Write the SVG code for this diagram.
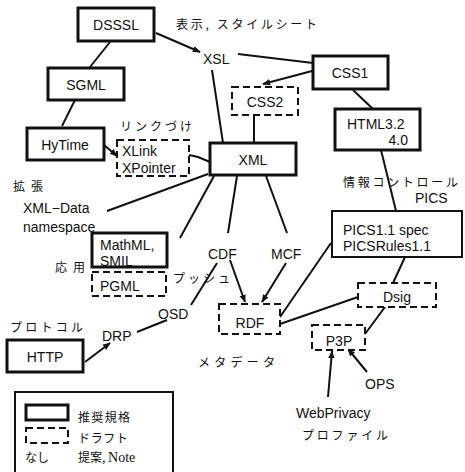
<svg xmlns="http://www.w3.org/2000/svg" width="465" height="472" viewBox="0 0 465 472">
<defs>
<style>
.solid{fill:#fff;stroke:#111;stroke-width:3}
.thin{fill:#fff;stroke:#111;stroke-width:2}
.dash{fill:#fff;stroke:#111;stroke-width:2;stroke-dasharray:7 4}
.t{font-family:"Liberation Sans",Arial,sans-serif;font-size:14px;fill:#111}
.c{text-anchor:middle}
.j{font-family:"Noto Sans CJK JP",sans-serif;font-size:12px;fill:#111}
.ln{stroke:#111;stroke-width:2;fill:none}
.ar{stroke:#111;stroke-width:2;fill:none;marker-end:url(#ah)}
</style>
<marker id="ah" viewBox="0 0 10 10" refX="9" refY="5" markerWidth="8" markerHeight="8" markerUnits="userSpaceOnUse" orient="auto">
<path d="M0,1 L10,5 L0,9 z" fill="#111"/>
</marker>
</defs>
<rect width="465" height="472" fill="#fff"/>

<g id="connectors">
<line class="ar" x1="156" y1="33" x2="200" y2="52"/>
<line class="ln" x1="110" y1="42" x2="90" y2="67"/>
<line class="ln" x1="75" y1="100" x2="62" y2="126"/>
<line class="ar" x1="104" y1="145" x2="117" y2="156"/>
<line class="ln" x1="238" y1="54" x2="313" y2="63"/>
<line class="ln" x1="212" y1="70" x2="223" y2="143"/>
<line class="ar" x1="312" y1="71" x2="263" y2="84"/>
<line class="ln" x1="254" y1="115" x2="254" y2="143"/>
<line class="ln" x1="353" y1="90" x2="373" y2="109"/>
<polyline class="ln" points="189,155 198,157 210,162"/>
<line class="ln" x1="208" y1="174" x2="107" y2="211"/>
<line class="ln" x1="214" y1="176" x2="180" y2="238"/>
<line class="ln" x1="237" y1="176" x2="228" y2="233"/>
<line class="ln" x1="266" y1="176" x2="287" y2="233"/>
<line class="ln" x1="381" y1="150" x2="396" y2="211"/>
<line class="ln" x1="405" y1="257" x2="393" y2="283"/>
<line class="ln" x1="331" y1="243" x2="280" y2="317"/>
<line class="ln" x1="358" y1="297" x2="280" y2="324"/>
<line class="ln" x1="385" y1="307" x2="365" y2="334"/>
<line class="ar" x1="230" y1="260" x2="245" y2="302"/>
<line class="ar" x1="286" y1="263" x2="262" y2="302"/>
<line class="ln" x1="217" y1="263" x2="191" y2="305"/>
<line class="ln" x1="137" y1="332" x2="167" y2="320"/>
<line class="ar" x1="85" y1="362" x2="110" y2="343"/>
<line class="ar" x1="328" y1="397" x2="332" y2="351"/>
<line class="ar" x1="367" y1="372" x2="348" y2="349"/>
</g>

<g id="DSSSL"><rect class="solid" x="78" y="8" width="76" height="33"/><text class="t c" x="116" y="30">DSSSL</text></g>
<g id="SGML"><rect class="solid" x="48" y="68" width="76" height="32"/><text class="t c" x="86" y="90">SGML</text></g>
<g id="HyTime"><rect class="solid" x="27" y="128" width="77" height="32"/><text class="t c" x="65" y="150">HyTime</text></g>
<g id="XLink"><rect class="dash" x="117" y="140" width="72" height="36"/><text class="t" x="122" y="156">XLink</text><text class="t" x="122" y="173">XPointer</text></g>
<g id="XSL"><text class="t" x="203" y="64">XSL</text></g>
<g id="CSS1"><rect class="solid" x="313" y="56" width="75" height="33"/><text class="t c" x="350" y="78">CSS1</text></g>
<g id="CSS2"><rect class="dash" x="232" y="87" width="66" height="28"/><text class="t c" x="265" y="107">CSS2</text></g>
<g id="XML"><rect class="solid" x="210" y="143" width="86" height="32"/><text class="t c" x="253" y="165">XML</text></g>
<g id="HTML"><rect class="solid" x="335" y="109" width="85" height="41"/><text class="t" x="347" y="129">HTML3.2</text><text class="t" x="408" y="145" text-anchor="end">4.0</text></g>
<g id="PICS"><rect class="thin" x="332" y="211" width="130" height="46"/><text class="t" x="343" y="235">PICS1.1 spec</text><text class="t" x="343" y="251">PICSRules1.1</text></g>
<g id="Dsig"><rect class="dash" x="358" y="283" width="78" height="24"/><text class="t c" x="397" y="302">Dsig</text></g>
<g id="RDF"><rect class="dash" x="219" y="304" width="61" height="30"/><text class="t c" x="250" y="328">RDF</text></g>
<g id="P3P"><rect class="dash" x="312" y="325" width="53" height="25"/><text class="t c" x="339" y="346">P3P</text></g>
<g id="XMLData"><text class="t" x="23" y="213">XML−Data</text><text class="t" x="23" y="232">namespace</text></g>
<g id="MathML"><rect class="solid" x="92" y="233" width="75" height="34"/><text class="t" x="100" y="250">MathML,</text><text class="t" x="100" y="266">SMIL</text></g>
<g id="PGML"><rect class="dash" x="92" y="272" width="74" height="24"/><text class="t" x="100" y="291">PGML</text></g>
<g id="CDF"><text class="t" x="208" y="259">CDF</text></g>
<g id="MCF"><text class="t" x="271" y="259">MCF</text></g>
<g id="OSD"><text class="t" x="158" y="319">OSD</text></g>
<g id="DRP"><text class="t" x="102" y="341">DRP</text></g>
<g id="HTTP"><rect class="solid" x="7" y="340" width="76" height="32"/><text class="t c" x="45" y="362">HTTP</text></g>
<g id="OPS"><text class="t" x="365" y="389">OPS</text></g>
<g id="WebPrivacy"><text class="t" x="296" y="418">WebPrivacy</text></g>

<g id="labels">
<text class="j" x="176" y="29" textLength="141" lengthAdjust="spacing">表示, スタイルシート</text>
<text class="j" x="120" y="131" textLength="72" lengthAdjust="spacing">リンクづけ</text>
<text class="j" x="13" y="191" font-size="14" textLength="30" lengthAdjust="spacing">拡張</text>
<text class="j" x="55" y="272" font-size="14" textLength="30" lengthAdjust="spacing">応用</text>
<text class="j" x="173" y="283" textLength="57" lengthAdjust="spacing">プッシュ</text>
<text class="j" x="343" y="187" textLength="115" lengthAdjust="spacing">情報コントロール</text>
<text class="t" x="415" y="203">PICS</text>
<text class="j" x="198" y="367" textLength="77" lengthAdjust="spacing">メタデータ</text>
<text class="j" x="10" y="332" textLength="73" lengthAdjust="spacing">プロトコル</text>
<text class="j" x="302" y="440" textLength="86" lengthAdjust="spacing">プロファイル</text>
</g>

<g id="legend">
<rect class="thin" x="15" y="392" width="158" height="90"/>
<rect class="solid" x="26" y="405" width="42" height="15"/>
<rect class="dash" x="26" y="428" width="42" height="15" stroke-dasharray="6 3"/>
<text class="j" x="78" y="422" font-size="13" textLength="52" lengthAdjust="spacing">推奨規格</text>
<text class="j" x="78" y="443" textLength="50" lengthAdjust="spacing">ドラフト</text>
<text class="j" x="25" y="462" font-size="13">なし</text>
<text class="j" x="78" y="462" font-size="13">提案, <tspan font-family="Liberation Serif,serif" font-size="14">Note</tspan></text>
</g>
</svg>
